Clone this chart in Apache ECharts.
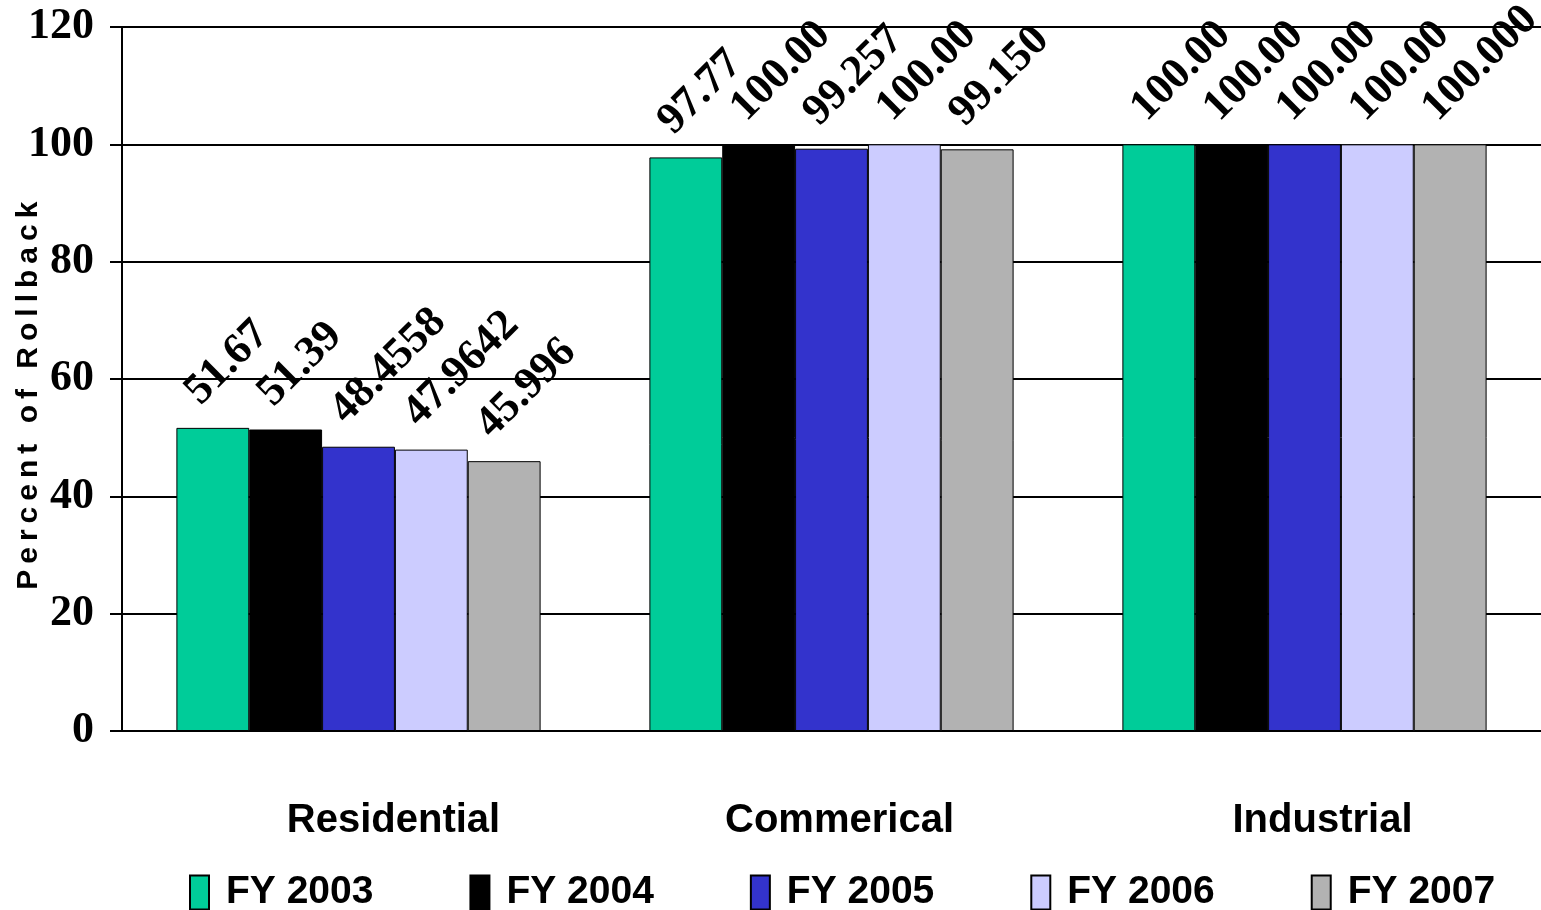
<!DOCTYPE html>
<html>
<head>
<meta charset="utf-8">
<title>Percent of Rollback by Sector</title>
<script src="https://cdn.jsdelivr.net/npm/echarts@6/dist/echarts.min.js"></script>
<style>
  html, body { margin: 0; padding: 0; background: #ffffff; }
  #chart { width: 1541px; height: 910px; }
</style>
</head>
<body>
<div id="chart"></div>
<script>
// Sectors along the x axis
const categories = ['Residential', 'Commerical', 'Industrial'];

// Fiscal years shown as series
const seriesNames = ['FY 2003', 'FY 2004', 'FY 2005', 'FY 2006', 'FY 2007'];

// Percent of rollback per year, ordered Residential / Commerical / Industrial
const fy2003 = [51.67, 97.77, 100.00];
const fy2004 = [51.39, 100.00, 100.00];
const fy2005 = [48.4558, 99.257, 100.00];
const fy2006 = [47.9642, 100.00, 100.00];
const fy2007 = [45.996, 99.150, 100.000];

// Value labels as printed above each bar
const fy2003Labels = ['51.67', '97.77', '100.00'];
const fy2004Labels = ['51.39', '100.00', '100.00'];
const fy2005Labels = ['48.4558', '99.257', '100.00'];
const fy2006Labels = ['47.9642', '100.00', '100.00'];
const fy2007Labels = ['45.996', '99.150', '100.000'];

// Y axis ticks
const yTicks = [0, 20, 40, 60, 80, 100, 120];

const seriesValues = [fy2003, fy2004, fy2005, fy2006, fy2007];
const seriesLabels = [fy2003Labels, fy2004Labels, fy2005Labels, fy2006Labels, fy2007Labels];
const seriesColors = ['#00CC99', '#000000', '#3333CC', '#CCCCFF', '#B2B2B2'];

const serifBold = '"Liberation Serif", "Times New Roman", serif';
const sansBold = '"Liberation Sans", Arial, sans-serif';

// Letter-spaced axis title (thin spaces between letters)
const yTitle = 'Percent of Rollback'.split('').join('\u2009') + '    ';

// Horizontal nudge of each category caption (left padding, px)
const captionPad = { 'Residential': 70, 'Commerical': 16, 'Industrial': 36 };

const chart = echarts.init(document.getElementById('chart'), null, { renderer: 'canvas' });

const series = seriesNames.map((name, si) => ({
  name: name,
  type: 'bar',
  barGap: '0%',
  barCategoryGap: '23%',
  data: seriesValues[si],
  itemStyle: {
    color: seriesColors[si],
    borderColor: '#000000',
    borderWidth: 1
  },
  label: {
    show: true,
    position: [16, -30],
    rotate: 45,
    align: 'left',
    verticalAlign: 'middle',
    fontFamily: serifBold,
    fontWeight: 'bold',
    fontSize: 44,
    color: '#000000',
    formatter: p => seriesLabels[si][p.dataIndex]
  },
  emphasis: { disabled: true }
}));

chart.setOption({
  animation: false,
  backgroundColor: '#ffffff',
  grid: { left: 122, right: 0, top: 27, bottom: 179, containLabel: false, outerBoundsMode: 'none' },
  legend: {
    data: seriesNames,
    left: 184,
    top: 868,
    itemWidth: 19,
    itemHeight: 34,
    itemGap: 96,
    icon: 'rect',
    itemStyle: { borderColor: '#000000', borderWidth: 2 },
    textStyle: {
      fontFamily: sansBold,
      fontWeight: 'bold',
      fontSize: 39,
      color: '#000000',
      padding: [0, 0, 0, 12]
    }
  },
  xAxis: {
    type: 'category',
    data: categories,
    axisLine: { show: true, lineStyle: { color: '#000000', width: 2 } },
    axisTick: { show: false },
    axisLabel: {
      margin: 70,
      formatter: v => '{c' + categories.indexOf(v) + '|' + v + '}',
      rich: Object.fromEntries(categories.map((c, i) => ['c' + i, {
        fontFamily: sansBold,
        fontWeight: 'bold',
        fontSize: 40,
        color: '#000000',
        padding: [0, 0, 0, captionPad[c]]
      }]))
    }
  },
  yAxis: {
    type: 'value',
    min: 0,
    max: 120,
    interval: 20,
    name: yTitle,
    nameLocation: 'middle',
    nameGap: 78,
    nameRotate: 90,
    nameMoveOverlap: false,
    nameTextStyle: {
      fontFamily: sansBold,
      fontWeight: 'bold',
      fontSize: 30,
      color: '#000000'
    },
    axisLine: { show: true, lineStyle: { color: '#000000', width: 2 } },
    axisTick: { show: true, inside: false, length: 12, lineStyle: { color: '#000000', width: 2 } },
    axisLabel: {
      margin: 28,
      fontFamily: serifBold,
      fontWeight: 'bold',
      fontSize: 44,
      color: '#000000',
      formatter: v => (yTicks.indexOf(v) >= 0 ? String(v) : '')
    },
    splitLine: { show: true, lineStyle: { color: '#000000', width: 2 } }
  },
  series: series
});
</script>
</body>
</html>
